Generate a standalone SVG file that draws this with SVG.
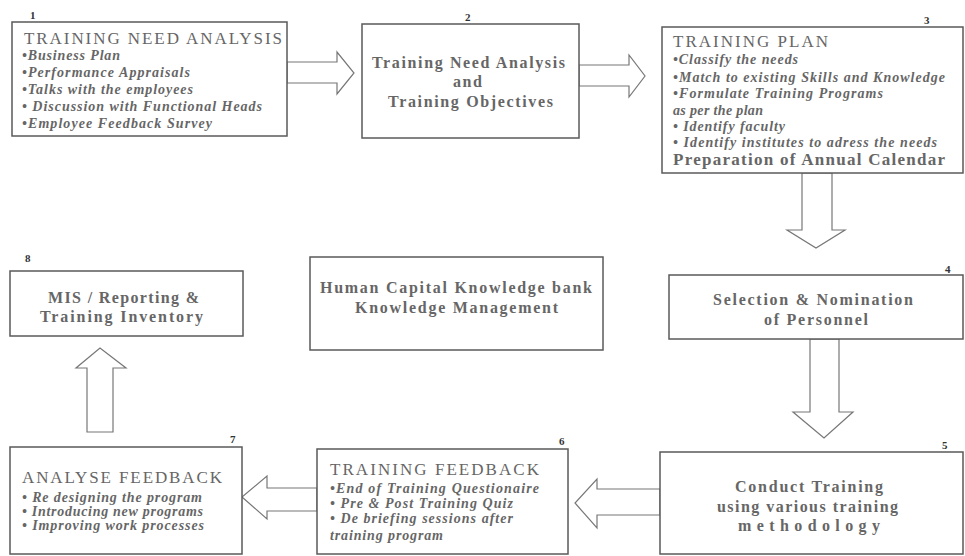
<svg xmlns="http://www.w3.org/2000/svg" width="965" height="556" viewBox="0 0 965 556">
<style>
.box{fill:#fff;stroke:#5a5a5a;stroke-width:1.5}
.arr{fill:#fff;stroke:#777;stroke-width:1.2;stroke-linejoin:miter}
text{font-family:"Liberation Serif","Times New Roman",serif;fill:#666}
.h{font-size:17px}
.i{font-size:14px;font-style:italic;font-weight:bold}
.b{font-size:16px;font-weight:bold}
.n{font-size:11px;font-weight:bold;fill:#333}
</style>
<rect width="965" height="556" fill="#fff"/>
<g id="connectors">
<polygon class="arr" points="287,62 337,62 337,52 354,73 337,94 337,83 287,83"/>
<polygon class="arr" points="579,65 629,65 629,55 645,76 629,97 629,86 579,86"/>
<polygon class="arr" points="802,173 802,230 787,230 816,248 845,230 832,230 832,173"/>
<polygon class="arr" points="810,339 810,412 793,412 824,438 853,412 839,412 839,339"/>
<polygon class="arr" points="660,489 597,489 597,479 575,503 597,528 597,515 660,515"/>
<polygon class="arr" points="317,488 267,488 267,476 242,497 267,519 267,511 317,511"/>
<polygon class="arr" points="87,432 87,368 76,368 100,348 126,368 113,368 113,432"/>
</g>
<g id="node1">
<rect class="box" x="12" y="22" width="275" height="114"/>
<text class="n" x="30" y="19">1</text>
<text class="h" x="24" y="44" textLength="258" lengthAdjust="spacing">TRAINING NEED ANALYSIS</text>
<text class="i" x="22" y="60" textLength="98" lengthAdjust="spacing">•Business Plan</text>
<text class="i" x="22" y="77" textLength="168" lengthAdjust="spacing">•Performance Appraisals</text>
<text class="i" x="22" y="94" textLength="171" lengthAdjust="spacing">•Talks with the employees</text>
<text class="i" x="22" y="111" textLength="240" lengthAdjust="spacing">• Discussion with Functional Heads</text>
<text class="i" x="22" y="128" textLength="190" lengthAdjust="spacing">•Employee Feedback Survey</text>
</g>
<g id="node2">
<rect class="box" x="362" y="24" width="217" height="114"/>
<text class="n" x="465" y="21">2</text>
<text class="b" x="372" y="68" textLength="193" lengthAdjust="spacing">Training Need Analysis</text>
<text class="b" x="453" y="87" textLength="29" lengthAdjust="spacing">and</text>
<text class="b" x="388" y="107" textLength="165" lengthAdjust="spacing">Training Objectives</text>
</g>
<g id="node3">
<rect class="box" x="662" y="27" width="301" height="146"/>
<text class="n" x="924" y="24">3</text>
<text class="h" x="673" y="47" textLength="155" lengthAdjust="spacing">TRAINING PLAN</text>
<text class="i" x="673" y="64" textLength="125" lengthAdjust="spacing">•Classify the needs</text>
<text class="i" x="673" y="82" textLength="272" lengthAdjust="spacing">•Match to existing Skills and Knowledge</text>
<text class="i" x="673" y="98" textLength="210" lengthAdjust="spacing">•Formulate Training Programs</text>
<text class="i" x="673" y="115" textLength="90" lengthAdjust="spacing">as per the plan</text>
<text class="i" x="673" y="131" textLength="112" lengthAdjust="spacing">• Identify faculty</text>
<text class="i" x="673" y="147" textLength="264" lengthAdjust="spacing">• Identify  institutes to adress the needs</text>
<text class="h" x="673" y="165" textLength="272" lengthAdjust="spacing" font-weight="bold">Preparation of Annual Calendar</text>
</g>
<g id="node4">
<rect class="box" x="669" y="275" width="294" height="64"/>
<text class="n" x="945" y="273">4</text>
<text class="b" x="713" y="305" textLength="200" lengthAdjust="spacing">Selection &amp; Nomination</text>
<text class="b" x="764" y="325" textLength="104" lengthAdjust="spacing">of Personnel</text>
</g>
<g id="node5">
<rect class="box" x="660" y="452" width="303" height="102"/>
<text class="n" x="942" y="449">5</text>
<text class="b" x="735" y="492" textLength="148" lengthAdjust="spacing">Conduct Training</text>
<text class="b" x="717" y="512" textLength="181" lengthAdjust="spacing">using various training</text>
<text class="b" x="738" y="531" textLength="142" lengthAdjust="spacing">methodology</text>
</g>
<g id="node6">
<rect class="box" x="317" y="449" width="251" height="105"/>
<text class="n" x="559" y="445">6</text>
<text class="h" x="330" y="475" textLength="209" lengthAdjust="spacing">TRAINING FEEDBACK</text>
<text class="i" x="330" y="493" textLength="209" lengthAdjust="spacing">•End of Training Questionaire</text>
<text class="i" x="330" y="508" textLength="183" lengthAdjust="spacing">• Pre &amp; Post Training Quiz</text>
<text class="i" x="330" y="523" textLength="183" lengthAdjust="spacing">• De briefing sessions after</text>
<text class="i" x="330" y="540" textLength="113" lengthAdjust="spacing">training program</text>
</g>
<g id="node7">
<rect class="box" x="10" y="447" width="232" height="107"/>
<text class="n" x="230" y="443">7</text>
<text class="h" x="22" y="483" textLength="200" lengthAdjust="spacing">ANALYSE FEEDBACK</text>
<text class="i" x="22" y="502" textLength="180" lengthAdjust="spacing">• Re designing the program</text>
<text class="i" x="22" y="516" textLength="181" lengthAdjust="spacing">• Introducing new programs</text>
<text class="i" x="22" y="530" textLength="182" lengthAdjust="spacing">• Improving work processes</text>
</g>
<g id="node8">
<rect class="box" x="10" y="271" width="233" height="65"/>
<text class="n" x="25" y="262">8</text>
<text class="b" x="48" y="303" textLength="151" lengthAdjust="spacing">MIS / Reporting &amp;</text>
<text class="b" x="40" y="322" textLength="163" lengthAdjust="spacing">Training Inventory</text>
</g>
<g id="node-knowledge">
<rect class="box" x="310" y="257" width="293" height="93"/>
<text class="b" x="320" y="293" textLength="272" lengthAdjust="spacing">Human Capital Knowledge bank</text>
<text class="b" x="355" y="313" textLength="203" lengthAdjust="spacing">Knowledge Management</text>
</g>
</svg>
